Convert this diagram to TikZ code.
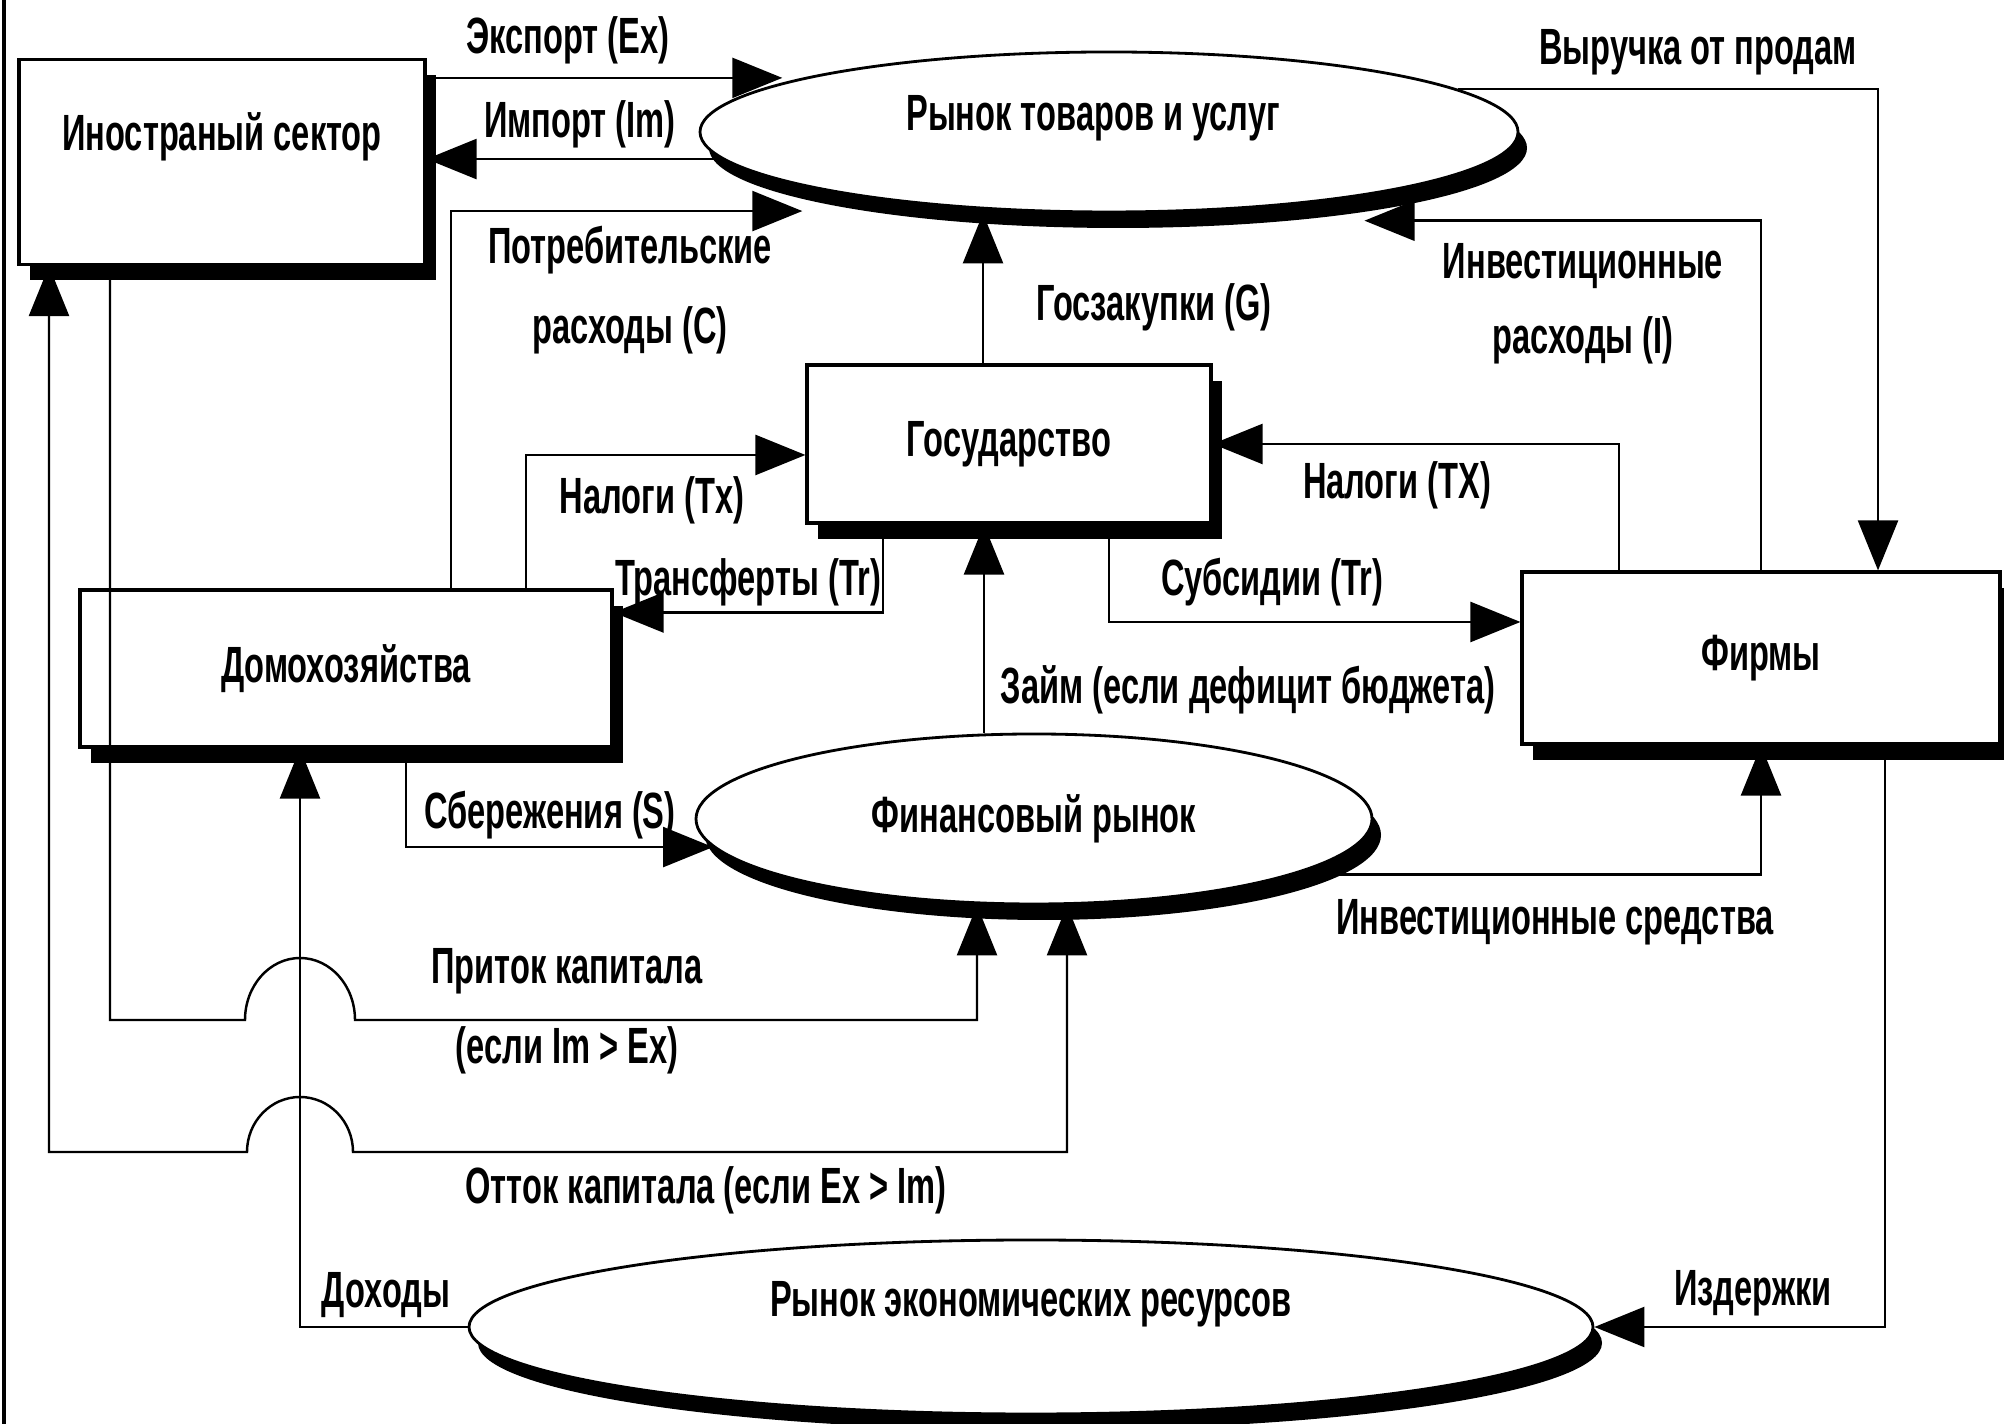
\documentclass[tikz,border=0pt]{standalone}
\usepackage{fontspec}
\newfontfamily\lblfont{Liberation Sans}[FakeStretch=0.64]
\usetikzlibrary{arrows.meta,shapes.geometric,shadows}

\tikzset{
  txt/.style={font=\lblfont\bfseries\fontsize{14.5}{17}\selectfont, inner sep=1pt, align=center},
  sector/.style={draw, line width=0.9pt, fill=white, rectangle, txt,
    drop shadow={opacity=1, fill=black, shadow xshift=1.1mm, shadow yshift=-1.6mm}},
  market/.style={draw, line width=0.8pt, fill=white, ellipse, inner sep=0pt, txt,
    drop shadow={opacity=1, fill=black, shadow xshift=0.9mm, shadow yshift=-1.6mm}},
  flowline/.style={line width=0.7pt, ->},
}

\begin{document}
\begin{tikzpicture}[>={Triangle[length=5mm,width=4mm]}]
            \useasboundingbox (0,0) rectangle (20.04,14.24);
            % Frame edge
            \draw[line width=1pt] (0.04,0) -- (0.04,14.24);

            % Sectors
            \node[sector, minimum width=4.06cm, minimum height=2.05cm,
              label={[txt, yshift=2.5mm]center:Иностраный сектор}] (foreign) at (2.22,12.62) {};
            \node[sector, minimum width=5.32cm, minimum height=1.57cm] (hh) at (3.46,7.555) {Домохозяйства};
            \node[sector, minimum width=4.04cm, minimum height=1.58cm] (gov) at (10.09,9.8) {Государство};
            \node[sector, minimum width=4.78cm, minimum height=1.72cm] (firms) at (17.61,7.66) {Фирмы};

            % Markets
            \node[market, minimum width=8.18cm, minimum height=1.6cm,
              label={[txt, xshift=-1.6mm, yshift=1.4mm]center:Рынок товаров и услуг}] (goods) at (11.09,12.92) {};
            \node[market, minimum width=6.76cm, minimum height=1.7cm] (fin) at (10.34,6.05) {Финансовый рынок};
            \node[market, minimum width=11.24cm, minimum height=1.74cm,
              label={[txt, yshift=2.3mm]center:Рынок экономических ресурсов}] (res) at (10.31,0.97) {};

            % Goods market flows
            \draw[flowline] (goods.170 -| foreign.east) -- ([xshift=-2mm]goods.170);
            \draw[flowline] (goods.184) -- (goods.184 -| foreign.east);
            \draw[flowline] ([xshift=10.5mm]hh.north) |- ([yshift=-2.5mm]goods.190);
            \draw[flowline] ([xshift=-2.6mm]gov.north) -- ([xshift=-2.6mm]gov.north |- goods.south);
            \draw[flowline] (firms.north) |- ([yshift=-2.5mm]goods.346);
            \draw[flowline] (goods.7) -| ([xshift=11.7mm]firms.north);

            % Government flows
            \draw[flowline] ([xshift=18mm]hh.north) |- ([yshift=-1.1mm]gov.west);
            \draw[flowline] ([xshift=-12.6mm]gov.south) |- ([yshift=5.6mm]hh.east);
            \draw[flowline] ([xshift=-14.2mm]firms.north) |- (gov.east);
            \draw[flowline] ([xshift=10mm]gov.south) |- ([yshift=3.6mm]firms.west);
            \draw[flowline] ([xshift=-5mm]fin.north) -- ([xshift=-5mm]fin.north |- gov.south);

            % Financial market flows
            \draw[flowline] ([xshift=6mm]hh.south) |- (fin.185);
            \draw[flowline] (fin.348) -| (firms.south);

            % Resource market flows
            \draw[flowline] ([xshift=12.4mm]firms.south) |- (res.east);
            \draw[flowline] (res.west) -| ([xshift=-4.6mm]hh.south);

            % Capital flows, hopping over the income line
            \coordinate (hopin) at (3.0,4.04);
            \coordinate (hopout) at (3.0,2.72);
            \draw[flowline] ([xshift=-11.2mm]foreign.south) |- ([xshift=-5.5mm]hopin)
              arc[start angle=180, end angle=0, x radius=5.5mm, y radius=6.2mm] -| ([xshift=-5.7mm]fin.south);
            \draw[flowline, <->] ([xshift=3.3mm]fin.south) |- ([xshift=5.3mm]hopout)
              arc[start angle=0, end angle=180, x radius=5.3mm, y radius=5.5mm] -| ([xshift=-17.3mm]foreign.south);

            % Flow labels
            \node[txt] (exlbl) at (5.68,13.84) {Экспорт (Ex)};
            \node[txt] (imlbl) at (5.8,13.0) {Импорт (Im)};
            \node[txt] (clbl) at (6.3,11.34) {Потребительские\\[2mm]расходы (C)};
            \node[txt] (glbl) at (11.54,11.17) {Госзакупки (G)};
            \node[txt] (ilbl) at (15.83,11.2) {Инвестиционные\\[1.5mm]расходы (I)};
            \node[txt] (revlbl) at (16.98,13.72) {Выручка от продам};
            \node[txt] (txhlbl) at (6.52,9.24) {Налоги (Tx)};
            \node[txt] (trlbl) at (7.48,8.42) {Трансферты (Tr)};
            \node[txt] (txflbl) at (13.97,9.39) {Налоги (TX)};
            \node[txt] (sublbl) at (12.72,8.42) {Субсидии (Tr)};
            \node[txt] (loanlbl) at (12.48,7.34) {Займ (если дефицит бюджета)};
            \node[txt] (slbl) at (5.5,6.09) {Сбережения (S)};
            \node[txt] (invlbl) at (15.55,5.02) {Инвестиционные средства};
            \node[txt] (inlbl) at (5.67,4.13) {Приток капитала\\[2mm](если Im > Ex)};
            \node[txt] (outlbl) at (7.06,2.34) {Отток капитала (если Ex > Im)};
            \node[txt] (inclbl) at (3.86,1.29) {Доходы};
            \node[txt] (costlbl) at (17.53,1.31) {Издержки};
        \end{tikzpicture}
\end{document}
